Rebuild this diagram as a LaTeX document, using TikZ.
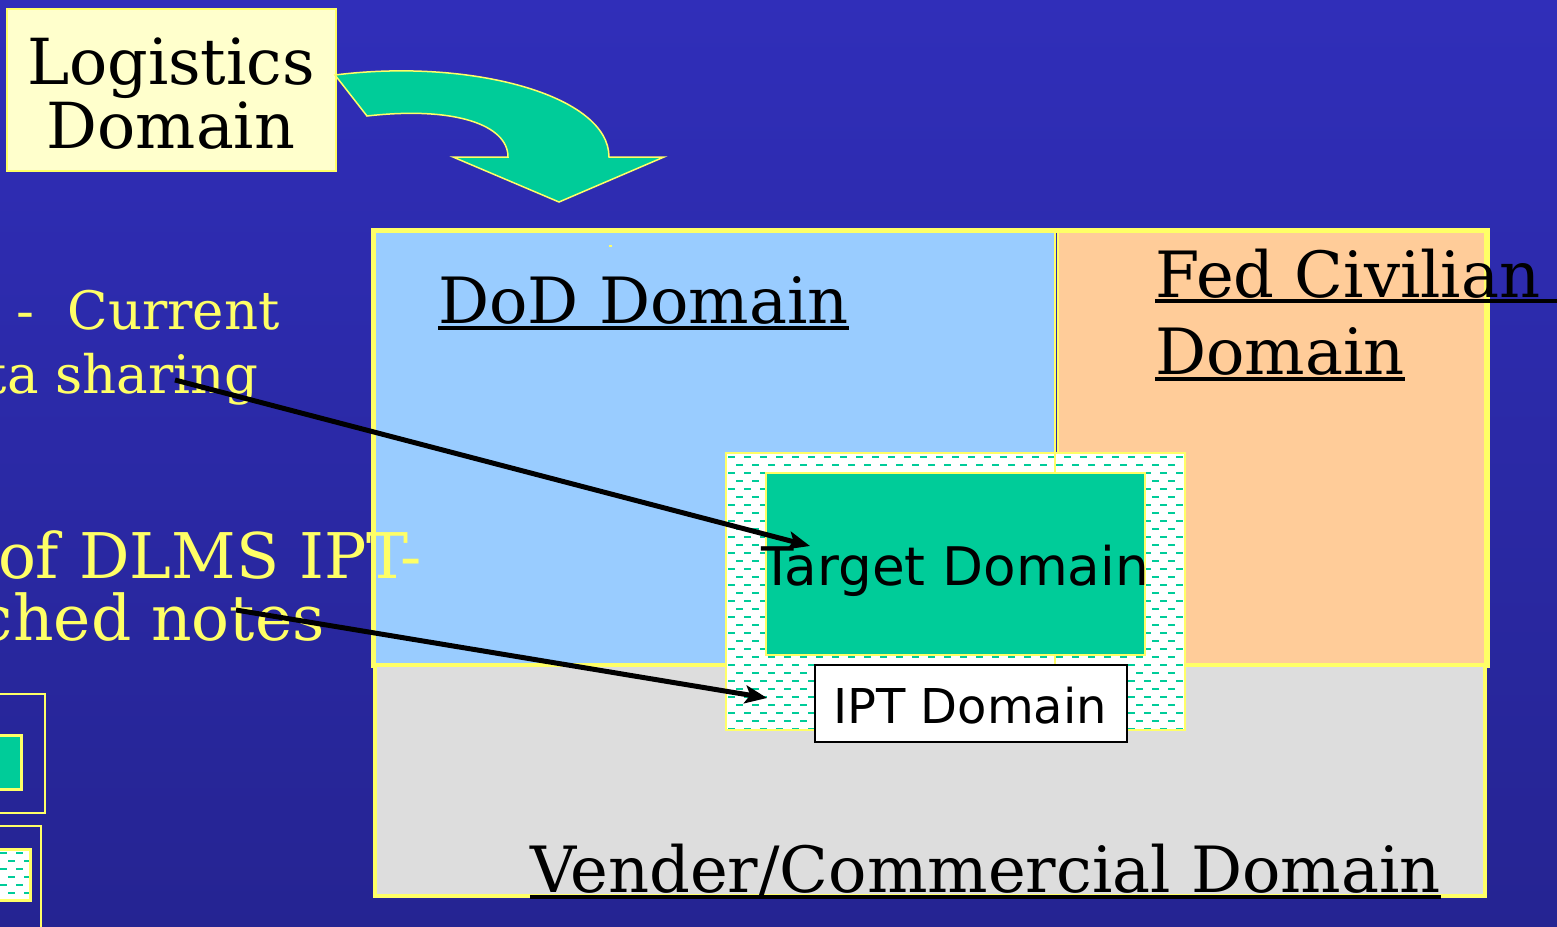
\documentclass[tikz,border=0pt]{standalone}
\usepackage{fontspec}
\setmainfont{DejaVu Serif}
\newfontfamily\sansf{DejaVu Sans}
\usetikzlibrary{arrows.meta,calc}
\definecolor{bgtop}{RGB}{48,46,185}
\definecolor{bgbot}{RGB}{37,36,146}
\definecolor{ylw}{RGB}{255,255,102}
\definecolor{cream}{RGB}{255,255,204}
\definecolor{dodblue}{RGB}{153,204,255}
\definecolor{peach}{RGB}{255,204,153}
\definecolor{grn}{RGB}{0,204,153}
\definecolor{lgray}{RGB}{221,221,221}
\begin{document}
\begin{tikzpicture}[x=1pt,y=-1pt,
  region/.style={draw=ylw, line width=1.5pt, inner sep=0pt, outer sep=0pt},
  serifbig/.style={font=\fontsize{63.8}{64}\selectfont, inner sep=0pt, anchor=base west, text=black},
  sidetext/.style={inner sep=0pt, anchor=base east, text=ylw},
  uline/.style={line width=3.4pt, black},
  pointer/.style={line width=5pt, black, -{Stealth[length=22pt,width=18pt,inset=5pt]}},
  hatchdash/.style={grn, line width=2.2pt, dash pattern=on 7pt off 9pt},
]
\useasboundingbox (0,0) rectangle (1557,926);
\shade[top color=bgtop, bottom color=bgbot] (0,0) rectangle (1557,926);

% Logistics box
\node[fill=cream, draw=ylw, line width=1.5pt, minimum width=329pt, minimum height=162pt, inner sep=0pt] (log) at (171.5,90) {};
\node[font=\fontsize{63.5}{64}\selectfont, inner sep=0pt, anchor=base] (logt1) at (171,84) {Logistics};
\node[font=\fontsize{63.5}{64}\selectfont, inner sep=0pt, anchor=base] (logt2) at (171,148) {Domain};

% curved arrow
\filldraw[fill=grn, draw=ylw, line width=1.5pt, line join=miter]
  (335,75) .. controls (470,58) and (609,95) .. (609,157)
  -- (664,157) -- (559,202) -- (453,157) -- (508,157)
  .. controls (508,125) and (455,106) .. (367,116) -- cycle;

% domains
\node[region, fill=dodblue, minimum width=680pt, minimum height=432pt] (dod) at (715,448) {};
\node[region, fill=peach, minimum width=427pt, minimum height=432pt] (fed) at (1271.5,448) {};
\draw[ylw, line width=5pt] (373,230) rectangle (1487,665);
\node[draw=ylw, line width=4pt, fill=lgray, minimum width=1110pt, minimum height=231pt, inner sep=0pt] (vend) at (930,780.5) {};
\fill[ylw] (609,245) rectangle (612,247);

% hatched IPT area
\node[fill=white, minimum width=459pt, minimum height=277pt, inner sep=0pt] (hatch) at (955.5,591.5) {};
\begin{scope}
\clip (726,453) rectangle (1185,730);
\foreach \yy in {457,473,...,729} \draw[hatchdash] (728,\yy) -- (1190,\yy);
\foreach \yy in {465,481,...,729} \draw[hatchdash, dash phase=8pt] (728,\yy) -- (1190,\yy);
\end{scope}
\draw[ylw, line width=1.5pt] (hatch.north west) rectangle (hatch.south east);
\draw[ylw, line width=1.2pt] (1055,453) -- (1055,665);

% target
\node[region, fill=grn, minimum width=379pt, minimum height=182pt] (tg) at (955.5,564) {};
\node[font=\sansf\fontsize{53.2}{55}\selectfont, inner sep=0pt, anchor=base] (tgt) at (955,585) {Target Domain};

% IPT box
\node[draw=black, line width=2pt, fill=white, minimum width=312pt, minimum height=77pt, inner sep=0pt] (ipt) at (971,703.5) {};
\node[font=\sansf\fontsize{48}{50}\selectfont, inner sep=0pt, anchor=base] (iptt) at (970,723) {IPT Domain};

% domain titles
\node[serifbig] (dodt) at (438,323) {DoD Domain};
\draw[uline] ($(dodt.base west)+(0,5)$) -- ($(dodt.base east)+(0,5)$);
\node[serifbig] (fed1) at (1155,297) {Fed Civilian};
\draw[uline] ($(fed1.base west)+(0,4)$) -- ($(fed1.base west)+(410,4)$);
\node[serifbig] (fed2) at (1155,374) {Domain};
\draw[uline] ($(fed2.base west)+(0,5)$) -- ($(fed2.base east)+(0,5)$);
\node[serifbig] (vendt) at (530,892) {Vender/Commercial Domain};
\draw[uline] ($(vendt.base west)+(0,5)$) -- ($(vendt.base east)+(0,5)$);

% side texts
\node[sidetext, font=\fontsize{53}{54}\selectfont] (s1) at (280,329) {-\ \ Current};
\node[sidetext, font=\fontsize{53}{54}\selectfont] (s2) at (259,393) {data sharing};
\node[sidetext, font=\fontsize{63}{64}\selectfont] (s3) at (422,578) {of DLMS IPT-};
\node[sidetext, font=\fontsize{63}{64}\selectfont] (s4) at (325,640) {attached notes};

% pointers
\coordinate (p1s) at (175,380);
\coordinate (p1e) at (810,546);
\coordinate (p2s) at (236,610);
\coordinate (p2e) at (767,698);
\draw[pointer] (p1s) -- (p1e);
\draw[pointer] (p2s) -- (p2e);

% legend
\draw[ylw, line width=2pt] (-60,694) rectangle (45,813);
\node[draw=ylw, fill=grn, line width=3pt, minimum width=80pt, minimum height=54pt, inner sep=0pt] (leg1) at (-19,762) {};
\draw[ylw, line width=2pt] (-60,826) rectangle (41,960);
\node[fill=white, minimum width=90pt, minimum height=50pt, inner sep=0pt] (leg2) at (-15,875) {};
\begin{scope}
\clip (-60,850) rectangle (30,900);
\foreach \yy in {853,869,...,900} \draw[hatchdash] (-64,\yy) -- (32,\yy);
\foreach \yy in {861,877,...,900} \draw[hatchdash, dash phase=8pt] (-64,\yy) -- (32,\yy);
\end{scope}
\draw[ylw, line width=3pt] (leg2.north west) rectangle (leg2.south east);
\end{tikzpicture}
\end{document}
